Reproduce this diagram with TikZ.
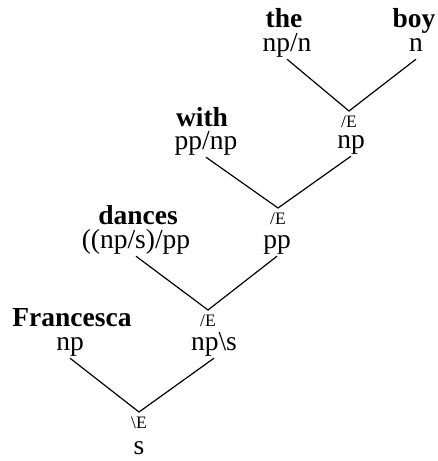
\documentclass[tikz,border=0pt]{standalone}
\usepackage{fontspec}
\setmainfont{Liberation Serif}
\usetikzlibrary{positioning}

\begin{document}
\begin{tikzpicture}[x=1pt, y=-1pt,
		word/.style={font=\fontsize{27.5}{29}\selectfont\bfseries, inner sep=0pt, anchor=base},
		cat/.style={font=\fontsize{27.5}{29}\selectfont, inner sep=0pt, text depth=8pt, anchor=base},
		rule/.style={font=\fontsize{17.5}{19}\selectfont, inner sep=1pt},
		edge/.style={line width=1.2pt}]
				\useasboundingbox (0,0) rectangle (437,461);
				% leaves
				\node[word] (Wthe) at (284,27) {the};
				\node[cat] (Cthe) at (287,51) {np/n};
				\node[word] (Wboy) at (414,27) {boy};
				\node[cat] (Cboy) at (416,51) {n};
				\node[word] (Wwith) at (202,126) {with};
				\node[cat] (Cwith) at (206,149) {pp/np};
				\node[word] (Wdan) at (138,224) {dances};
				\node[cat] (Cdan) at (136,248) {((np/s)/pp};
				\node[word] (Wfra) at (72,326) {Francesca};
				\node[cat] (Cfra) at (70,350) {np};
				% derived
				\coordinate (Anp) at (349,111);
				\node[rule, below=4pt of Anp] (Rnp) {/E};
				\node[cat] (Cnp) at (351,148) {np};
				\coordinate (App) at (278,208);
				\node[rule, below=4pt of App] (Rpp) {/E};
				\node[cat] (Cpp) at (277,248) {pp};
				\coordinate (Avp) at (208,310);
				\node[rule, below=4pt of Avp] (Rvp) {/E};
				\node[cat] (Cvp) at (214,350) {np\textbackslash s};
				\coordinate (As) at (139,412);
				\node[rule, below=4pt of As] (Rs) {\textbackslash E};
				\node[cat, text depth=0pt] (Cs) at (139,454) {s};
				\draw[edge] (Cthe.south) -- (Anp) -- (Cboy.south);
				\draw[edge] (Cwith.south) -- (App) -- (Cnp.south);
				\draw[edge] (Cdan.south) -- (Avp) -- (Cpp.south);
				\draw[edge] (Cfra.south) -- (As) -- (Cvp.south);
			\end{tikzpicture}
\end{document}
